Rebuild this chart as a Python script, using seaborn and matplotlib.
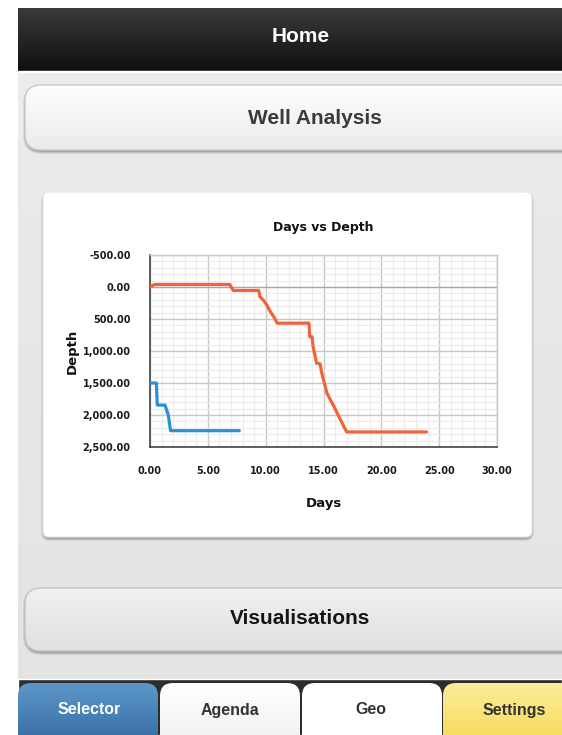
import numpy as np
import pandas as pd
import matplotlib.pyplot as plt
import seaborn as sns
from matplotlib import font_manager
from matplotlib.colors import LinearSegmentedColormap
from matplotlib.patches import FancyBboxPatch, Rectangle
from matplotlib.ticker import MultipleLocator, FuncFormatter

WELL_A_DAYS = [0.0, 0.4, 6.9, 7.2, 9.4, 9.5, 9.8, 10.1, 10.4, 10.7, 11.0,
               13.75, 13.8, 14.0, 14.1, 14.4, 14.7, 14.85, 15.3, 15.6, 15.9,
               16.4, 17.0, 23.9]
WELL_A_DEPTH = [0, -40, -40, 55, 55, 150, 205, 280, 385, 465, 565,
                565, 775, 775, 930, 1190, 1200, 1345, 1660, 1765, 1865,
                2050, 2265, 2265]
WELL_B_DAYS = [0.0, 0.55, 0.63, 1.3, 1.58, 1.78, 7.72]
WELL_B_DEPTH = [1500, 1500, 1845, 1845, 2000, 2245, 2245]

X_TICKS = [0, 5, 10, 15, 20, 25, 30]
Y_TICKS = [-500, 0, 500, 1000, 1500, 2000, 2500]

TAB_LABELS = ["Selector", "Agenda", "Geo", "Settings"]

W, H = 562, 735

sns.set_style("white")
installed = {f.name for f in font_manager.fontManager.ttflist}
ui_font = ["Liberation Sans Narrow"] if "Liberation Sans Narrow" in installed else ["Liberation Sans"]
plt.rcParams["font.family"] = ["DejaVu Sans"]


def gradient_box(ax, x0, y0, x1, y1, top, bottom, radius=0, zorder=1, edge="none", lw=0):
    patch = FancyBboxPatch((x0, y0), x1 - x0, y1 - y0,
                           boxstyle=f"round,pad=0,rounding_size={radius}",
                           facecolor="none", edgecolor=edge, lw=lw, zorder=zorder + 0.1)
    ax.add_patch(patch)
    cmap = LinearSegmentedColormap.from_list("g", [top, bottom])
    grad = np.linspace(0, 1, 64).reshape(-1, 1)
    im = ax.imshow(grad, cmap=cmap, extent=(x0, x1, y1, y0), aspect="auto",
                   zorder=zorder, interpolation="bilinear")
    im.set_clip_path(patch)
    return patch


def shadow(ax, x0, y0, x1, y1, radius, zorder):
    for i, a in enumerate([0.08, 0.1, 0.14]):
        d = 3 - i
        ax.add_patch(FancyBboxPatch((x0 - d + 1, y0 - d + 3), x1 - x0 + 2 * d - 2, y1 - y0 + 2 * d - 2,
                                    boxstyle=f"round,pad=0,rounding_size={radius + d}",
                                    facecolor="#000000", edgecolor="none", alpha=a, zorder=zorder))


fig = plt.figure(figsize=(W / 100, H / 100), dpi=100)
bg = fig.add_axes([0, 0, 1, 1])
bg.set_axis_off()

# page background
bg.add_patch(Rectangle((0, 0), W, H, facecolor="white", zorder=0))
gradient_box(bg, 18, 72, W, 682, "#ececec", "#e3e3e3", zorder=0.5)

# header bar
gradient_box(bg, 18, 8, W, 72, "#3a3a3a", "#0f0f0f", zorder=1)
bg.add_patch(Rectangle((18, 70.5), W - 18, 1.2, facecolor="#5a5a5a", zorder=1.5))
bg.text(301, 36, "Home", color="white", fontsize=15, fontweight="bold",
        family=ui_font, ha="center", va="center", zorder=3)

# Well Analysis button
shadow(bg, 25, 85, W + 30, 150, 16, 1.2)
gradient_box(bg, 25, 85, W + 30, 150, "#fefefe", "#ebebeb", radius=16, zorder=1.5,
             edge="#c9c9c9", lw=1)
bg.text(315, 118, "Well Analysis", color="#3a3a3a", fontsize=15, fontweight="bold",
        family=ui_font, ha="center", va="center", zorder=3)

# chart card
shadow(bg, 43, 192, 532, 537, 6, 1.2)
bg.add_patch(FancyBboxPatch((43, 192), 489, 345, boxstyle="round,pad=0,rounding_size=6",
                            facecolor="white", edgecolor="#e4e4e4", lw=0.8, zorder=1.5))

# Visualisations button
shadow(bg, 25, 588, W + 30, 651, 16, 1.2)
gradient_box(bg, 25, 588, W + 30, 651, "#f0f0f0", "#e0e0e0", radius=16, zorder=1.5,
             edge="#c4c4c4", lw=1)
bg.text(300, 619, "Visualisations", color="#151515", fontsize=15, fontweight="bold",
        family=ui_font, ha="center", va="center", zorder=3)

# tab bar
bg.add_patch(Rectangle((18, 679), W - 18, H - 679, facecolor="#2c2c2c", zorder=1))
tab_x = [(18, 158), (160, 300), (302, 442), (443, W + 20)]
tab_fill = [("#5d97c9", "#2f6499"), ("#ffffff", "#eeeeee"),
            ("#ffffff", "#ffffff"), ("#fcec9c", "#f6d84a")]
tab_text = ["white", "#333333", "#333333", "#333333"]
tab_cx = [89, 230, 371, 514]
for (x0, x1), (c0, c1), tc, cx, lab in zip(tab_x, tab_fill, tab_text, tab_cx, TAB_LABELS):
    gradient_box(bg, x0, 683, x1, H + 20, c0, c1, radius=13, zorder=1.5)
    bg.text(cx, 710, lab, color=tc, fontsize=11.5, fontweight="bold",
            family=ui_font, ha="center", va="center", zorder=3)

bg.set_xlim(0, W)
bg.set_ylim(H, 0)

# chart
df = pd.concat([
    pd.DataFrame({"days": WELL_A_DAYS, "depth": WELL_A_DEPTH, "well": "A"}),
    pd.DataFrame({"days": WELL_B_DAYS, "depth": WELL_B_DEPTH, "well": "B"}),
], ignore_index=True)

ax = fig.add_axes([150 / W, 1 - 447 / H, 347 / W, 192 / H])
ax.set_facecolor("white")
ax.axhline(0, color="#e98c82", lw=0.9, zorder=1.8)
sns.lineplot(data=df, x="days", y="depth", hue="well",
             palette={"A": "#f0643a", "B": "#2b8fd5"},
             estimator=None, sort=False, linewidth=2.3, legend=False, ax=ax, zorder=3)

ax.set_xlim(0, 30)
ax.set_ylim(2500, -500)
ax.set_xticks(X_TICKS)
ax.set_yticks(Y_TICKS)
ax.xaxis.set_minor_locator(MultipleLocator(1))
ax.yaxis.set_minor_locator(MultipleLocator(100))
ax.xaxis.set_major_formatter(FuncFormatter(lambda v, p: f"{v:,.2f}"))
ax.yaxis.set_major_formatter(FuncFormatter(lambda v, p: f"{v:,.2f}"))
ax.grid(which="major", color="#c6c6c6", lw=1.0)
ax.grid(which="minor", color="#ececec", lw=0.8)
ax.set_axisbelow(True)
ax.tick_params(which="major", direction="out", length=5, width=1, color="#444444",
               pad=9, labelsize=7, labelcolor="#1a1a1a")
ax.tick_params(which="minor", direction="in", length=3, width=0.8, color="#666666")
for lab in ax.get_xticklabels() + ax.get_yticklabels():
    lab.set_fontweight("bold")
for s in ["left", "bottom"]:
    ax.spines[s].set_color("#444444")
    ax.spines[s].set_linewidth(1.2)
for s in ["top", "right"]:
    ax.spines[s].set_color("#c6c6c6")
    ax.spines[s].set_linewidth(1.0)

ax.set_title("Days vs Depth", fontsize=9, fontweight="bold", color="#111111", pad=17)
ax.set_xlabel("Days", fontsize=9.5, fontweight="bold", color="#111111")
ax.set_ylabel("Depth", fontsize=9.5, fontweight="bold", color="#111111")
ax.xaxis.set_label_coords(0.5, -0.26)
ax.yaxis.set_label_coords(-0.205, 0.5)

fig.savefig("out.png", dpi=100)
